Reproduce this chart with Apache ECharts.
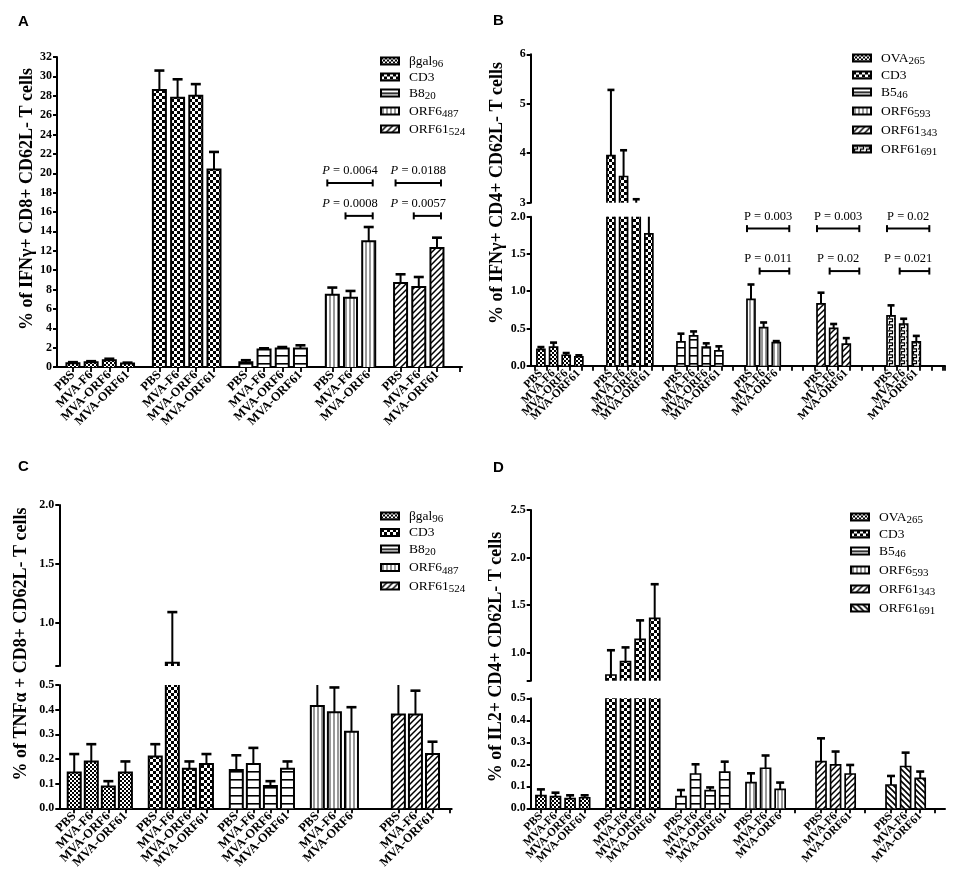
<!DOCTYPE html>
<html>
<head>
<meta charset="utf-8">
<script src="https://cdn.jsdelivr.net/npm/echarts@6/dist/echarts.min.js"></script>
<style>
html, body { margin: 0; padding: 0; background: #fff; }
#main { width: 957px; height: 892px; }
</style>
</head>
<body>
<div id="main"></div>
<script>
var FONT = 'Liberation Serif';

// ---------- data ----------
var mice4 = ['PBS', 'MVA-F6', 'MVA-ORF6', 'MVA-ORF61'];
var miceOrf6 = ['PBS', 'MVA-F6', 'MVA-ORF6'];
var miceOrf61 = ['PBS', 'MVA-F6', 'MVA-ORF61'];

// A: IFNγ+ CD8+
var aTitle = '% of IFNγ+ CD8+ CD62L- T cells';
var aGroups = ['βgal|96', 'CD3|', 'B8|20', 'ORF6|487', 'ORF61|524'];
var aMice = [mice4, mice4, mice4, miceOrf6, miceOrf61];
var aMean = [[0.4, 0.5, 0.7, 0.35], [28.6, 27.8, 28.0, 20.4], [0.5, 1.8, 1.9, 1.9], [7.47, 7.16, 12.97], [8.67, 8.26, 12.28]];
var aSem = [[0.1, 0.1, 0.15, 0.1], [2.0, 1.9, 1.2, 1.8], [0.2, 0.13, 0.16, 0.34], [0.73, 0.69, 1.48], [0.9, 1.03, 1.07]];
var aP = [['0.0064', '0.0008'], ['0.0188', '0.0057']];

// B: IFNγ+ CD4+
var bTitle = '% of IFNγ+ CD4+ CD62L- T cells';
var bGroups = ['OVA|265', 'CD3|', 'B5|46', 'ORF6|593', 'ORF61|343', 'ORF61|691'];
var bMice = [mice4, mice4, mice4, miceOrf6, miceOrf61, miceOrf61];
var bMean = [[0.22, 0.25, 0.14, 0.12], [3.95, 3.53, 2.97, 1.77], [0.32, 0.40, 0.25, 0.20], [0.89, 0.51, 0.31], [0.83, 0.50, 0.29], [0.67, 0.56, 0.32]];
var bSem = [[0.03, 0.06, 0.03, 0.02], [1.33, 0.53, 0.1, 0.5], [0.11, 0.06, 0.05, 0.06], [0.2, 0.07, 0.02], [0.15, 0.06, 0.08], [0.14, 0.07, 0.08]];
var bP = [['0.003', '0.011'], ['0.003', '0.02'], ['0.02', '0.021']];

// C: TNFα+ CD8+
var cTitle = '% of TNFα + CD8+ CD62L- T cells';
var cGroups = ['βgal|96', 'CD3|', 'B8|20', 'ORF6|487', 'ORF61|524'];
var cMice = [mice4, mice4, mice4, miceOrf6, miceOrf61];
var cMean = [[0.145, 0.19, 0.088, 0.145], [0.21, 0.66, 0.16, 0.18], [0.155, 0.18, 0.09, 0.16], [0.415, 0.39, 0.31], [0.38, 0.38, 0.22]];
var cSem = [[0.075, 0.07, 0.022, 0.045], [0.05, 0.43, 0.03, 0.04], [0.06, 0.065, 0.02, 0.03], [0.11, 0.1, 0.1], [0.13, 0.097, 0.05]];

// D: IL2+ CD4+
var dTitle = '% of IL2+ CD4+ CD62L- T cells';
var dGroups = ['OVA|265', 'CD3|', 'B5|46', 'ORF6|593', 'ORF61|343', 'ORF61|691'];
var dMice = [mice4, mice4, mice4, miceOrf6, miceOrf61, miceOrf61];
var dMean = [[0.058, 0.053, 0.044, 0.048], [0.766, 0.906, 1.14, 1.36], [0.053, 0.156, 0.08, 0.164], [0.117, 0.182, 0.086], [0.212, 0.197, 0.156], [0.106, 0.19, 0.136]];
var dSem = [[0.028, 0.018, 0.015, 0.011], [0.26, 0.15, 0.2, 0.36], [0.03, 0.044, 0.015, 0.048], [0.042, 0.058, 0.031], [0.106, 0.061, 0.041], [0.041, 0.063, 0.031]];

// ---------- fill patterns ----------
function makePattern(w, h, draw) {
    var c = document.createElement('canvas');
    c.width = w; c.height = h;
    var ctx = c.getContext('2d');
    ctx.fillStyle = '#fff';
    ctx.fillRect(0, 0, w, h);
    ctx.fillStyle = '#000';
    ctx.strokeStyle = '#000';
    draw(ctx);
    return { image: c, repeat: 'repeat' };
}
var pat = {
    dots: makePattern(4, 4, function (c) { c.fillRect(0, 0, 2, 2); c.fillRect(2, 2, 2, 2); }),
    checker: makePattern(6, 6, function (c) { c.fillRect(0, 0, 3, 3); c.fillRect(3, 3, 3, 3); }),
    hlines: makePattern(4, 8, function (c) { c.fillRect(0, 3, 4, 1.6); }),
    vlines: makePattern(4, 4, function (c) { c.fillStyle = '#333'; c.fillRect(1.5, 0, 1, 4); }),
    diag: makePattern(6, 6, function (c) {
        c.lineWidth = 1.5; c.beginPath();
        c.moveTo(-1, 7); c.lineTo(7, -1); c.moveTo(-1, 1); c.lineTo(1, -1); c.moveTo(5, 7); c.lineTo(7, 5);
        c.stroke();
    }),
    backdiag: makePattern(6, 6, function (c) {
        c.lineWidth = 1.6; c.beginPath();
        c.moveTo(-1, -1); c.lineTo(7, 7); c.moveTo(5, -1); c.lineTo(7, 1); c.moveTo(-1, 5); c.lineTo(1, 7);
        c.stroke();
    }),
    wave: makePattern(6, 6, function (c) {
        c.lineWidth = 1.2; c.beginPath();
        c.moveTo(0, 0.8); c.lineTo(4.5, 0.8); c.lineTo(4.5, 3.6); c.lineTo(1.5, 3.6); c.lineTo(1.5, 6);
        c.stroke();
    })
};

// ---------- panel layout ----------
var panels = [
    { key: 'A', title: aTitle, groups: aGroups, mice: aMice, mean: aMean, sem: aSem, pvals: aP,
      pats: ['dots', 'checker', 'hlines', 'vlines', 'diag'],
      left: 57, width: 405, n: 89, starts: [3, 22, 41, 60, 75], step: 4, barW: 13, border: 2, capW: 10, labelSize: 12.5,
      segs: [{ top: 57, height: 310, min: 0, max: 32, interval: 2, digits: 0 }],
      tickMode: 'centers',
      legend: { left: 380, top: 52, gap: 0 }, titlePos: [27, 199], letterPos: [18, 21.5],
      bracket: { groups: [3, 4], levels: [19.0, 15.6], padL: 5, padR: 4, italic: true } },
    { key: 'B', title: bTitle, groups: bGroups, mice: bMice, mean: bMean, sem: bSem, pvals: bP,
      pats: ['dots', 'checker', 'hlines', 'vlines', 'diag', 'wave'],
      left: 530.7, width: 414.3, n: 426, starts: [10, 82, 154, 226, 298, 370], step: 13, barW: 8, border: 1.7, capW: 7, labelSize: 11.5,
      segs: [{ top: 54.3, height: 148.4, min: 3, max: 6, interval: 1, digits: 0 },
             { top: 216.7, height: 149, min: 0, max: 2, interval: 0.5, digits: 1 }],
      tickMode: 'regular',
      legend: { left: 852, top: 49, gap: 1 }, titlePos: [497, 193], letterPos: [493, 21],
      bracket: { groups: [3, 4, 5], levels: [1.84, 1.27], padL: 4, padR: 13, italic: false } },
    { key: 'C', title: cTitle, groups: cGroups, mice: cMice, mean: cMean, sem: cSem,
      pats: ['dots', 'checker', 'hlines', 'vlines', 'diag'],
      left: 59.3, width: 392.4, n: 92, starts: [3, 22, 41, 60, 79], step: 4, barW: 13, border: 2, capW: 10, labelSize: 12.5,
      segs: [{ top: 505, height: 161, min: 0.632, max: 2.0, labels: [1.0, 1.5, 2.0], ticks: [0.632, 1.0, 1.5, 2.0], digits: 1 },
             { top: 685, height: 123.3, min: 0, max: 0.5, interval: 0.1, digits: 1 }],
      tickMode: 'centers',
      legend: { left: 380, top: 507, gap: 0.5 }, titlePos: [21, 644], letterPos: [18, 467] },
    { key: 'D', title: dTitle, groups: dGroups, mice: dMice, mean: dMean, sem: dSem,
      pats: ['dots', 'checker', 'hlines', 'vlines', 'diag', 'backdiag'],
      left: 530.7, width: 414.3, n: 426, starts: [10, 82, 154, 226, 298, 370], step: 15, barW: 10, border: 1.7, capW: 8, labelSize: 11.5,
      segs: [{ top: 510, height: 170.7, min: 0.706, max: 2.5, labels: [1.0, 1.5, 2.0, 2.5], ticks: [0.706, 1.0, 1.5, 2.0, 2.5], digits: 1 },
             { top: 698.3, height: 110, min: 0, max: 0.5, interval: 0.1, digits: 1 }],
      tickMode: 'slots',
      legend: { left: 850, top: 508, gap: 1 }, titlePos: [496, 657], letterPos: [493, 468] }
];

function legendFormatter(name) {
    var p = name.split(':')[1].split('|');
    return '{m|' + p[0] + '}' + (p[1] ? '{s|' + p[1] + '}' : '');
}

function barSeries(P, g, gi, name) {
    var fill = pat[P.pats[g]];
    var data = P.mean[g].map(function (v, b) {
        return [P.starts[g] + b * P.step, v, P.sem[g][b]];
    });
    return {
        type: 'custom', name: name, xAxisIndex: gi, yAxisIndex: gi,
        itemStyle: { color: fill, borderColor: '#000', borderWidth: 2 },
        encode: { x: 0, y: 1 },
        data: data,
        renderItem: function (params, api) {
            var idx = api.value(0), v = api.value(1), e = api.value(2);
            var cs = params.coordSys;
            var yMin = cs.y, yMax = cs.y + cs.height;
            var base = api.coord([idx, 0]);
            var top = api.coord([idx, v]);
            var errTop = api.coord([idx, v + e]);
            var cx = base[0], hw = P.barW / 2;
            var kids = [];
            // error bar first, bar drawn over its lower end
            var ey0 = Math.min(top[1], yMax), ey1 = Math.max(errTop[1], yMin);
            if (ey1 < ey0) {
                kids.push({ type: 'line', shape: { x1: cx, y1: ey0, x2: cx, y2: ey1 }, style: { stroke: '#000', lineWidth: 2 } });
                if (errTop[1] >= yMin) {
                    kids.push({ type: 'line', shape: { x1: cx - P.capW / 2, y1: errTop[1], x2: cx + P.capW / 2, y2: errTop[1] },
                        style: { stroke: '#000', lineWidth: 2.6 } });
                }
            }
            var yb = Math.min(base[1], yMax), yt = Math.max(top[1], yMin);
            if (yt < yb) {
                kids.push({ type: 'rect', shape: { x: cx - hw, y: yt, width: P.barW, height: yb - yt }, style: { fill: fill } });
                if (top[1] >= yMin) {
                    kids.push({ type: 'polyline', shape: { points: [[cx - hw, yb], [cx - hw, yt], [cx + hw, yt], [cx + hw, yb]] },
                        style: { stroke: '#000', fill: null, lineWidth: P.border, lineJoin: 'miter' } });
                } else {
                    kids.push({ type: 'line', shape: { x1: cx - hw, y1: yb, x2: cx - hw, y2: yt }, style: { stroke: '#000', lineWidth: P.border } });
                    kids.push({ type: 'line', shape: { x1: cx + hw, y1: yb, x2: cx + hw, y2: yt }, style: { stroke: '#000', lineWidth: P.border } });
                }
            }
            return { type: 'group', children: kids };
        }
    };
}

function bracketSeries(P, gi) {
    var B = P.bracket;
    var data = [], texts = [];
    B.groups.forEach(function (g, k) {
        var s = P.starts[g], last = s + (P.mean[g].length - 1) * P.step;
        data.push([s, last, B.levels[0], s, last]);
        texts.push(P.pvals[k][0]);
        data.push([s + P.step, last, B.levels[1], s, last]);
        texts.push(P.pvals[k][1]);
    });
    return {
        type: 'custom', xAxisIndex: gi, yAxisIndex: gi, silent: true,
        encode: { x: [0, 1, 3, 4], y: 2 },
        data: data,
        renderItem: function (params, api) {
            var lev = api.value(2);
            var a = api.coord([api.value(0), lev]), b = api.coord([api.value(1), lev]);
            var f = api.coord([api.value(3), lev]), l = api.coord([api.value(4), lev]);
            var x0 = a[0] - B.padL, x1 = b[0] + B.padR, y = a[1];
            var tx = (f[0] - B.padL + l[0] + B.padR) / 2;
            var ls = { stroke: '#000', lineWidth: 2 };
            return { type: 'group', children: [
                { type: 'line', shape: { x1: x0, y1: y, x2: x1, y2: y }, style: ls },
                { type: 'line', shape: { x1: x0, y1: y - 3.5, x2: x0, y2: y + 3.5 }, style: ls },
                { type: 'line', shape: { x1: x1, y1: y - 3.5, x2: x1, y2: y + 3.5 }, style: ls },
                { type: 'text', x: tx, y: y - 12, style: {
                    text: '{i|P}{t| = ' + texts[params.dataIndex] + '}',
                    align: 'center', verticalAlign: 'middle',
                    rich: {
                        i: { fontFamily: FONT, fontSize: 12.5, fontStyle: B.italic ? 'italic' : 'normal', fill: '#000' },
                        t: { fontFamily: FONT, fontSize: 12.5, fill: '#000' }
                    }
                } }
            ] };
        }
    };
}

var option = {
    backgroundColor: '#fff',
    animation: false,
    grid: [], xAxis: [], yAxis: [], series: [], legend: [], graphic: []
};

panels.forEach(function (P) {
    var labels = [];
    for (var i = 0; i < P.n; i++) labels.push('');
    var barSet = {};
    P.mean.forEach(function (vals, g) {
        vals.forEach(function (v, b) {
            var idx = P.starts[g] + b * P.step;
            labels[idx] = P.mice[g][b];
            barSet[idx] = true;
        });
    });
    var slotSet = {};
    P.starts.forEach(function (s) { for (var b = 0; b < 4; b++) slotSet[s + b * P.step] = true; });

    var tickInterval, alignWithLabel = false;
    if (P.tickMode === 'regular') {
        tickInterval = function (i) { return i % 12 === 4; };
    } else if (P.tickMode === 'centers') {
        alignWithLabel = true;
        tickInterval = function (i) { return barSet[i] === true || i === P.n - 1; };
    } else {
        alignWithLabel = true;
        tickInterval = function (i) { return slotSet[i] === true; };
    }

    P.segs.forEach(function (s, si) {
        var gi = option.grid.length;
        var isBottom = si === P.segs.length - 1;
        option.grid.push({ left: P.left, top: s.top, width: P.width, height: s.height, containLabel: false, outerBoundsMode: 'none' });
        option.xAxis.push({
            type: 'category', gridIndex: gi, data: labels, boundaryGap: true, show: isBottom,
            axisLine: { show: true, onZero: false, lineStyle: { color: '#000', width: 2 } },
            axisTick: { show: true, length: 5, alignWithLabel: alignWithLabel, interval: tickInterval, lineStyle: { color: '#000', width: 1.8 } },
            axisLabel: { interval: 0, rotate: 45, margin: 6, color: '#000', fontFamily: FONT, fontWeight: 'bold', fontSize: P.labelSize },
            splitLine: { show: false }
        });
        var yAx = {
            type: 'value', gridIndex: gi, min: s.min, max: s.max,
            axisLine: { show: true, lineStyle: { color: '#000', width: 2 } },
            axisTick: { show: true, length: 4, lineStyle: { color: '#000', width: 2 } },
            axisLabel: { color: '#000', fontFamily: FONT, fontWeight: 'bold', fontSize: 12, margin: 5,
                formatter: (function (d) { return function (v) { return Number(v).toFixed(d); }; })(s.digits) },
            splitLine: { show: false }
        };
        if (s.interval) yAx.interval = s.interval;
        if (s.labels) yAx.axisLabel.customValues = s.labels;
        if (s.ticks) yAx.axisTick.customValues = s.ticks;
        option.yAxis.push(yAx);

        P.groups.forEach(function (gName, g) {
            option.series.push(barSeries(P, g, gi, P.key + ':' + gName));
        });
        if (isBottom && P.bracket) option.series.push(bracketSeries(P, gi));
    });

    option.legend.push({
        data: P.groups.map(function (g) { return P.key + ':' + g; }),
        orient: 'vertical', left: P.legend.left, top: P.legend.top, itemGap: P.legend.gap,
        itemWidth: 18, itemHeight: 7, icon: 'rect', selectedMode: false, padding: 0,
        formatter: legendFormatter,
        textStyle: { color: '#000', rich: {
            m: { fontFamily: FONT, fontSize: 13.5, lineHeight: 18, padding: [0, 0, 0, 5], color: '#000' },
            s: { fontFamily: FONT, fontSize: 11, lineHeight: 10, padding: [7, 0, 0, 0], color: '#000' }
        } }
    });

    option.graphic.push({
        type: 'text', x: P.titlePos[0], y: P.titlePos[1], rotation: Math.PI / 2,
        style: { text: P.title, fontFamily: FONT, fontWeight: 'bold', fontSize: 18, fill: '#000',
            align: 'center', verticalAlign: 'middle', textAlign: 'center', textVerticalAlign: 'middle' }
    });
    option.graphic.push({
        type: 'text', x: P.letterPos[0], y: P.letterPos[1],
        style: { text: P.key, fontFamily: 'Liberation Sans', fontWeight: 'bold', fontSize: 15, fill: '#000',
            align: 'left', verticalAlign: 'middle', textAlign: 'left', textVerticalAlign: 'middle' }
    });
});

var chart = echarts.init(document.getElementById('main'));
chart.setOption(option);
</script>
</body>
</html>
